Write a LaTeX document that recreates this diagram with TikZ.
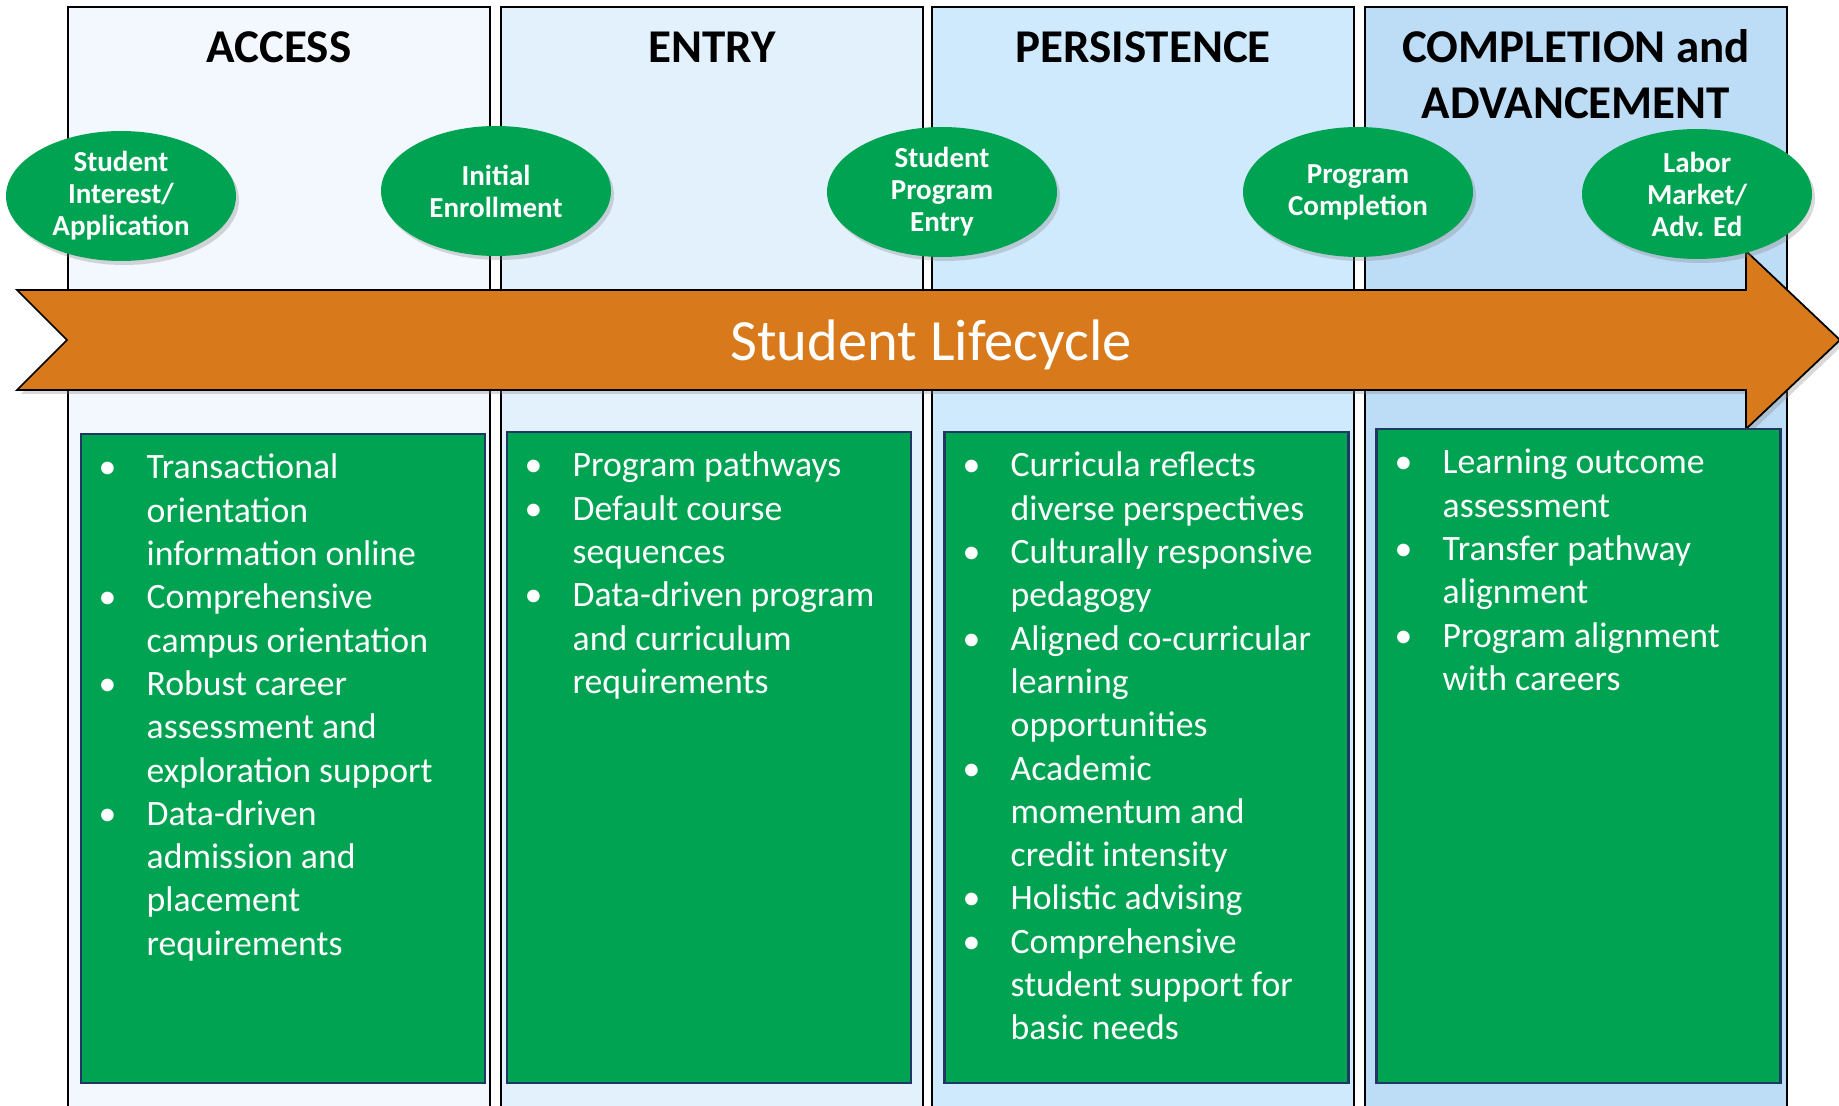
\documentclass[tikz,border=0pt]{standalone}
\usepackage{fontspec}
\setmainfont{Carlito}
\usepackage{xcolor}
\usepackage{tikz}
\usetikzlibrary{shapes.geometric,shadows}
\definecolor{accessfill}{HTML}{F2F8FE}
\definecolor{entryfill}{HTML}{E3F1FD}
\definecolor{persistfill}{HTML}{CFE9FD}
\definecolor{completefill}{HTML}{BDDCF6}
\definecolor{stagegreen}{HTML}{00A352}
\definecolor{lifeorange}{HTML}{D87A1B}
\definecolor{boxnavy}{HTML}{1F3864}
\tikzset{
  panel/.style={draw=black, line width=0.5pt, rectangle, minimum width=4.22cm, minimum height=11.26cm, inner sep=0pt},
  stagetitle/.style={anchor=north, inner sep=0pt, align=center, font=\bfseries\fontsize{0.47cm}{0.56cm}\selectfont},
  milestone/.style={ellipse, fill=stagegreen, text=white, minimum width=2.30cm, minimum height=1.30cm, inner sep=0pt, align=center, font=\bfseries\fontsize{0.29cm}{0.32cm}\selectfont, drop shadow={shadow xshift=0.03cm, shadow yshift=-0.04cm, opacity=0.3}},
  listbox/.style={rectangle, draw=boxnavy, line width=0.6pt, fill=stagegreen, minimum width=4.04cm, inner sep=0pt},
  listtext/.style={anchor=north west, inner sep=0pt, text=white, align=left, font=\fontsize{0.357cm}{0.433cm}\selectfont},
  lifearrow/.style={draw=black, line width=0.5pt, fill=lifeorange, drop shadow={shadow xshift=0.04cm, shadow yshift=-0.04cm, opacity=0.3}},
}
\newcommand{\bl}{\strut\makebox[0.48cm][l]{\textbullet}}
\newcommand{\cont}{\strut\hspace*{0.48cm}}
\begin{document}
\begin{tikzpicture}
\useasboundingbox (0,0) rectangle (18.39,-11.06);
\clip (0,0) rectangle (18.39,-11.06);
% stage panels
\node[panel, fill=accessfill] (access) at (2.79,-5.70) {};
\node[panel, fill=entryfill] (entry) at (7.12,-5.70) {};
\node[panel, fill=persistfill] (persist) at (11.43,-5.70) {};
\node[panel, fill=completefill] (complete) at (15.76,-5.70) {};
\node[stagetitle] (accesstitle) at (2.79,-0.228) {\strut ACCESS};
\node[stagetitle] (entrytitle) at (7.12,-0.228) {\strut ENTRY};
\node[stagetitle] (persisttitle) at (11.43,-0.228) {\strut PERSISTENCE};
\node[stagetitle] (completetitle) at (15.76,-0.228) {\strut COMPLETION and\\\strut ADVANCEMENT};
% lifecycle arrow
\draw[lifearrow] (0.17,-2.90) -- (17.46,-2.90) -- (17.46,-2.51) -- (18.40,-3.40) -- (17.46,-4.29) -- (17.46,-3.90) -- (0.17,-3.90) -- (0.67,-3.40) -- cycle;
\node[text=white, font=\fontsize{0.585cm}{0.70cm}\selectfont] (lifecycle) at (9.31,-3.45) {Student Lifecycle};
% milestones
\node[milestone] (interest) at (1.21,-1.96) {Student\\Interest/\\Application};
\node[milestone] (enroll) at (4.96,-1.91) {Initial\\Enrollment};
\node[milestone] (progentry) at (9.42,-1.92) {Student\\Program\\Entry};
\node[milestone] (progdone) at (13.58,-1.92) {Program\\Completion};
\node[milestone] (labor) at (16.97,-1.94) {Labor\\Market/\\Adv. Ed};
% practice lists
\node[listbox, minimum height=6.49cm] (accessbox) at (2.83,-7.585) {};
\node[listbox, minimum height=6.51cm] (entrybox) at (7.09,-7.575) {};
\node[listbox, minimum height=6.51cm] (persistbox) at (11.465,-7.575) {};
\node[listbox, minimum height=6.54cm] (completebox) at (15.785,-7.56) {};
\node[listtext] (accesslist) at (0.98,-4.479) {\bl Transactional\\\cont orientation\\\cont information online\\\bl Comprehensive\\\cont campus orientation\\\bl Robust career\\\cont assessment and\\\cont exploration support\\\bl Data-driven\\\cont admission and\\\cont placement\\\cont requirements};
\node[listtext] (entrylist) at (5.24,-4.459) {\bl Program pathways\\\bl Default course\\\cont sequences\\\bl Data-driven program\\\cont and curriculum\\\cont requirements};
\node[listtext] (persistlist) at (9.62,-4.459) {\bl Curricula reflects\\\cont diverse perspectives\\\bl Culturally responsive\\\cont pedagogy\\\bl Aligned co-curricular\\\cont learning\\\cont opportunities\\\bl Academic\\\cont momentum and\\\cont credit intensity\\\bl Holistic advising\\\bl Comprehensive\\\cont student support for\\\cont basic needs};
\node[listtext] (completelist) at (13.94,-4.429) {\bl Learning outcome\\\cont assessment\\\bl Transfer pathway\\\cont alignment\\\bl Program alignment\\\cont with careers};
\end{tikzpicture}
\end{document}
